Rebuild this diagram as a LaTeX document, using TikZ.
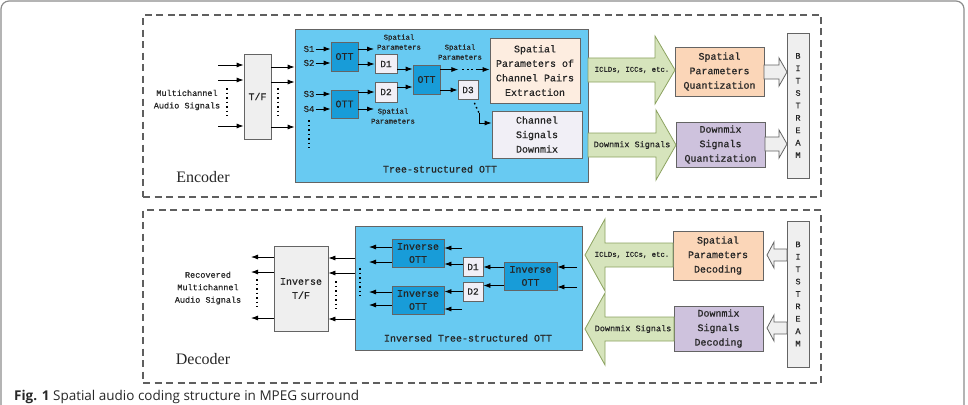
\documentclass[tikz,border=0pt]{standalone}
\usepackage{fontspec}
\setmainfont{Liberation Serif}
\newfontfamily\monofont[FakeBold=0.6]{Liberation Mono}
\newfontfamily\capfont{Open Sans}
\usetikzlibrary{arrows,arrows.meta,positioning,calc,shapes.geometric}

\definecolor{skyfill}{RGB}{104,202,242}
\definecolor{ottfill}{RGB}{24,156,216}
\definecolor{peachlt}{RGB}{253,237,224}
\definecolor{peach}{RGB}{251,214,184}
\definecolor{lavlt}{RGB}{241,239,246}
\definecolor{lav}{RGB}{206,194,221}
\definecolor{grn}{RGB}{214,228,188}
\definecolor{grnline}{RGB}{140,162,96}
\definecolor{boxgray}{RGB}{239,239,239}
\definecolor{edgegray}{RGB}{100,100,100}
\definecolor{dashgray}{RGB}{95,95,95}
\definecolor{framegray}{RGB}{140,140,140}
\definecolor{captext}{RGB}{40,40,40}

\tikzset{
  blk/.style={draw=edgegray, line width=0.8pt, inner sep=0pt, align=center, text=black!85,
    font=\monofont\fontsize{10}{14.5}\selectfont},
  ottbox/.style={blk, fill=ottfill, font=\monofont\fontsize{10}{13}\selectfont},
  dbox/.style={blk, fill=lavlt, font=\monofont\fontsize{9.5}{11}\selectfont},
  arr/.style={draw, -{Latex[length=7pt,width=5pt]}, line width=0.8pt},
  dots/.style={draw, line width=1.6pt, dash pattern=on 1.6pt off 2.9pt},
  small/.style={align=center, inner sep=0pt, text=black!85, font=\monofont\fontsize{7.3}{10}\selectfont},
  sig/.style={align=center, inner sep=1pt, text=black!85, font=\monofont\fontsize{8.5}{12.5}\selectfont},
  bigarrow/.style={draw=grnline, fill=grn, line width=0.8pt},
  hollow/.style={draw=edgegray, fill=boxgray, line width=0.8pt},
  group/.style={draw=dashgray, line width=1.1pt, dash pattern=on 7pt off 4.5pt, inner sep=0pt},
  title/.style={font=\fontsize{16}{18}\selectfont, text=black!85},
}

\begin{document}
\begin{tikzpicture}[x=1pt,y=-1pt]
        \useasboundingbox (0,0) rectangle (968,404);
        \clip (0,0) rectangle (968,404);
        \draw[framegray, rounded corners=8pt, line width=1.2pt] (1,1) rectangle (964,440);
        %groups
        \node[group, minimum width=678pt, minimum height=182pt] (enc) at (482,106) {};
        \node[group, minimum width=678pt, minimum height=173pt] (dec) at (482,296.5) {};
        \node[title] (enclbl) at (203,177) {Encoder};
        \node[title] (declbl) at (203,359) {Decoder};

        %encoder nodes
        \node[sig] (insig) at (187,100) {Multichannel\\Audio Signals};
        \node[blk, fill=boxgray, minimum width=27pt, minimum height=85pt] (tf) at (257.5,96.5) {T/F};
        \node[blk, fill=skyfill, minimum width=293pt, minimum height=153pt] (tree) at (441.5,105.5) {};
        \node[blk, draw=none] (treelbl) at (440,169) {Tree-structured OTT};
        \node[ottbox, minimum width=27pt, minimum height=29pt] (ott1) at (344.5,56.5) {OTT};
        \node[ottbox, minimum width=27pt, minimum height=28pt] (ott2) at (344.5,104) {OTT};
        \node[ottbox, minimum width=27pt, minimum height=29pt] (ott3) at (426.5,79.5) {OTT};
        \node[dbox, minimum width=22pt, minimum height=19pt] (d1) at (386,64) {D1};
        \node[dbox, minimum width=22pt, minimum height=20pt] (d2) at (386,92) {D2};
        \node[dbox, minimum width=20pt, minimum height=19pt] (d3) at (468,90) {D3};
        \node[sig, font=\monofont\fontsize{9}{10}\selectfont] (s1) at (309,49) {S1};
        \node[sig, font=\monofont\fontsize{9}{10}\selectfont] (s2) at (309,63) {S2};
        \node[sig, font=\monofont\fontsize{9}{10}\selectfont] (s3) at (309,94) {S3};
        \node[sig, font=\monofont\fontsize{9}{10}\selectfont] (s4) at (309,109) {S4};
        \node[small] (sp1lbl) at (399,42) {Spatial\\Parameters};
        \node[small] (sp2lbl) at (393,116) {Spatial\\Parameters};
        \node[small] (sp3lbl) at (460,52) {Spatial\\Parameters};
        \node[blk, fill=peachlt, minimum width=90pt, minimum height=65pt] (spe) at (535,70.5)
          {Spatial\\Parameters of\\Channel Pairs\\Extraction};
        \node[blk, fill=lavlt, minimum width=90pt, minimum height=47pt] (csd) at (537,134.5)
          {Channel\\Signals\\Downmix};
        \node[blk, fill=peach, minimum width=89pt, minimum height=49pt] (spq) at (719.5,71.5)
          {Spatial\\Parameters\\Quantization};
        \node[blk, fill=lav, minimum width=89pt, minimum height=45pt] (dsq) at (720.5,144.5)
          {Downmix\\Signals\\Quantization};
        \node[blk, fill=boxgray, minimum width=22pt, minimum height=145pt,
          font=\monofont\fontsize{8.5}{12.4}\selectfont] (bse) at (798,105.5) {B\\I\\T\\S\\T\\R\\E\\A\\M};

        %encoder edges
        \foreach \y [count=\i] in {65,80,126} {
          \coordinate (in\i) at (218,\y);
          \path[arr] (in\i) -- (in\i -| tf.west);
        }
        \foreach \y in {67,82,127}
          \path[arr] (tf.east |- 0,\y) -- (tree.west |- 0,\y);
        \path[dots] (227,88) -- (227,116);
        \path[dots] (278,88) -- (278,116);
        \path[dots] (309,120) -- (309,148);
        \path[arr] (s1.east) -- (s1 -| ott1.west);
        \path[arr] (s2.east) -- (s2 -| ott1.west);
        \path[arr] (s3.east) -- (s3 -| ott2.west);
        \path[arr] (s4.east) -- (s4 -| ott2.west);
        \coordinate (sp1) at (374,49);
        \coordinate (sp2) at (374,109);
        \path[arr] (sp1 -| ott1.east) -- (sp1);
        \path[arr] (sp2 -| ott2.east) -- (sp2);
        \path[arr] (d1 -| ott1.east) -- (d1.west);
        \path[arr] (d2 -| ott2.east) -- (d2.west);
        \coordinate (d1o) at ($(d1.east)+(0,5)$);
        \coordinate (d2o) at ($(d2.east)+(0,-5)$);
        \path[arr] (d1o) -- (d1o -| ott3.west);
        \path[arr] (d2o) -- (d2o -| ott3.west);
        \coordinate (o3) at ($(ott3.east)+(0,-10)$);
        \path[arr] (o3) -- ++(18,0) coordinate (o3t);
        \path[dots] ($(o3t)+(4,0)$) -- ++(14,0) coordinate (o3d);
        \path[arr] ($(o3d)+(1,0)$) -- (o3d -| spe.west);
        \path[arr] (d3 -| ott3.east) -- (d3.west);
        \coordinate (k1) at ($(d3.south east)+(-4,3)$);
        \coordinate (k2) at (479,113);
        \path[dots, line width=1.4pt] (k1) -- (k2);
        \path[arr] (k2) |- (csd.west |- 0,123);
        \path[bigarrow] (588,58) -- (655,58) -- (655,36) -- (675,70) -- (655,104) -- (655,82) -- (588,82) -- cycle;
        \path[bigarrow] (588,133) -- (656,133) -- (656,110) -- (676,145) -- (656,180) -- (656,157) -- (588,157) -- cycle;
        \node[small] (iclde) at (632,70) {ICLDs, ICCs, etc.};
        \node[sig] (dmxe) at (632,145) {Downmix Signals};
        \path[hollow] (764,65) -- (779,65) -- (779,58) -- (787,72) -- (779,86) -- (779,79) -- (764,79) -- cycle;
        \path[hollow] (765,137) -- (779,137) -- (779,130) -- (787,144) -- (779,158) -- (779,151) -- (765,151) -- cycle;

        %decoder nodes
        \node[sig] (outsig) at (208,288) {Recovered\\Multichannel\\Audio Signals};
        \node[blk, fill=boxgray, minimum width=54pt, minimum height=85pt,
          font=\monofont\fontsize{10}{14}\selectfont] (itf) at (301,288.5) {Inverse\\T/F};
        \node[blk, fill=skyfill, minimum width=227pt, minimum height=124pt] (itree) at (468.5,288) {};
        \node[blk, draw=none] (itreelbl) at (468,338) {Inversed Tree-structured OTT};
        \node[ottbox, minimum width=52pt, minimum height=28pt] (iott1) at (418,253) {Inverse\\OTT};
        \node[ottbox, minimum width=52pt, minimum height=28pt] (iott2) at (418,300) {Inverse\\OTT};
        \node[ottbox, minimum width=53pt, minimum height=28pt] (iott3) at (530.5,276) {Inverse\\OTT};
        \node[dbox, minimum width=20pt, minimum height=19pt] (id1) at (473,267) {D1};
        \node[dbox, minimum width=20pt, minimum height=19pt] (id2) at (473,291.5) {D2};
        \node[blk, fill=peach, minimum width=90pt, minimum height=49pt] (spd) at (718,255.5)
          {Spatial\\Parameters\\Decoding};
        \node[blk, fill=lav, minimum width=89pt, minimum height=45pt] (dsd) at (718.5,328.5)
          {Downmix\\Signals\\Decoding};
        \node[blk, fill=boxgray, minimum width=22pt, minimum height=146pt,
          font=\monofont\fontsize{8.5}{12.4}\selectfont] (bsd) at (798,294) {B\\I\\T\\S\\T\\R\\E\\A\\M};

        %decoder edges
        \path[hollow] (787,249) -- (774,249) -- (774,242) -- (767,255) -- (774,268) -- (774,261) -- (787,261) -- cycle;
        \path[hollow] (787,322) -- (774,322) -- (774,315) -- (767,328) -- (774,341) -- (774,334) -- (787,334) -- cycle;
        \path[bigarrow] (673,243) -- (605,243) -- (605,219) -- (585,255) -- (605,291) -- (605,267) -- (673,267) -- cycle;
        \path[bigarrow] (674,317) -- (605,317) -- (605,293) -- (585,329) -- (605,365) -- (605,341) -- (674,341) -- cycle;
        \node[small] (icldd) at (632,255) {ICLDs, ICCs, etc.};
        \node[sig] (dmxd) at (633,329) {Downmix Signals};
        \foreach \y [count=\i] in {267,287} {
          \coordinate (rin\i) at (577,\y);
          \path[arr] (rin\i) -- (rin\i -| iott3.east);
        }
        \path[arr] (id1 -| iott3.west) -- (id1.east);
        \coordinate (id2i) at ($(id2.east)+(0,-6)$);
        \path[arr] (id2i -| iott3.west) -- (id2i);
        \coordinate (id1o) at ($(id1.west)+(0,-3)$);
        \path[arr] (id1o) -- (id1o -| iott1.east);
        \path[arr] (id2.west) -- (id2 -| iott2.east);
        \coordinate (fin1) at (462,248);
        \coordinate (fin2) at (462,309);
        \path[arr] (fin1) -- (fin1 -| iott1.east);
        \path[arr] (fin2) -- (fin2 -| iott2.east);
        \foreach \y [count=\i] in {247,262} {
          \coordinate (ua\i) at (369,\y);
          \path[arr] (ua\i -| iott1.west) -- (ua\i);
        }
        \foreach \y [count=\i] in {292,305} {
          \coordinate (la\i) at (369,\y);
          \path[arr] (la\i -| iott2.west) -- (la\i);
        }
        \foreach \y in {258,273,319}
          \path[arr] (itree.west |- 0,\y) -- (itf.east |- 0,\y);
        \foreach \y [count=\i] in {257,272,318} {
          \coordinate (rec\i) at (251,\y);
          \path[arr] (rec\i -| itf.west) -- (rec\i);
        }
        \path[dots] (360,268) -- (360,296);
        \path[dots] (336,281) -- (336,309);
        \path[dots] (257,279) -- (257,307);

        %caption
        \node[anchor=base west, inner sep=0pt, text=captext, font=\capfont\fontsize{13.5}{15}\selectfont] (cap) at (14,400)
          {\textbf{Fig. 1} Spatial audio coding structure in MPEG surround};
      \end{tikzpicture}
\end{document}
